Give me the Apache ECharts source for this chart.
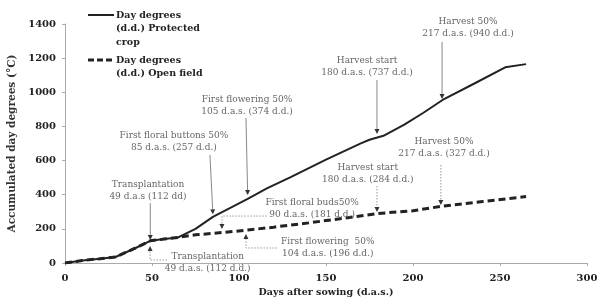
<!DOCTYPE html>
<html><head><meta charset="utf-8">
<script src="https://cdn.jsdelivr.net/npm/echarts/dist/echarts.min.js"></script>
<style>html,body{margin:0;padding:0;background:#fff}#c{width:600px;height:301px}</style>
</head><body><div id="c"></div>
<script>
// ---- data ----
const protectedDays = [0, 10, 20, 29, 40, 49, 57, 65, 75, 85, 95, 105, 116, 130, 150, 170, 175, 183, 195, 206, 217, 235, 253, 265];
const protectedDD   = [0, 15, 25, 35, 85, 130, 140, 150, 200, 270, 323, 375, 437, 505, 605, 701, 722, 745, 810, 880, 955, 1050, 1146, 1165];
const openDays = [0, 10, 20, 29, 40, 49, 57, 65, 75, 90, 105, 120, 140, 160, 180, 200, 217, 240, 265];
const openDD   = [0, 15, 25, 35, 85, 130, 140, 150, 165, 178, 193, 210, 235, 262, 290, 306, 333, 360, 389];
const xTicks = [0, 50, 100, 150, 200, 250, 300];
const yTicks = [0, 200, 400, 600, 800, 1000, 1200, 1400];
const seriesNames = ['Day degrees\n(d.d.) Protected\ncrop', 'Day degrees\n(d.d.) Open field'];

// annotations (data coordinates): label, label anchor, connector path (last point = arrow tip), style
const annLabels = [
  'Transplantation\n49 d.a.s (112 dd)',
  'First floral buttons 50%\n85 d.a.s. (257 d.d.)',
  'First flowering 50%\n105 d.a.s. (374 d.d.)',
  'Harvest start\n180 d.a.s. (737 d.d.)',
  'Harvest 50%\n217 d.a.s. (940 d.d.)',
  'Harvest 50%\n217 d.a.s. (327 d.d.)',
  'Harvest start\n180 d.a.s. (284 d.d.)',
  'First floral buds50%\n90 d.a.s. (181 d.d.)',
  'First flowering  50%\n104 d.a.s. (196 d.d.)',
  'Transplantation\n49 d.a.s. (112 d.d.)'
];
const annTextPos = [[47.7, 422], [62.6, 710], [104.6, 920], [173.6, 1148], [231.6, 1377],
                    [217.8, 674], [174, 521], [142, 319], [151, 88], [82, 0]];
const annPaths = [
  [[49, 351], [49, 135]],
  [[83.3, 633], [85, 285]],
  [[104, 850], [105, 398]],
  [[179.3, 1072], [179.3, 755]],
  [[216.7, 1295], [216.7, 960]],
  [[216, 574], [216, 340]],
  [[179.3, 451], [179.3, 299]],
  [[116, 275], [90.2, 275], [90.2, 199]],
  [[121.8, 88], [104, 88], [104, 170]],
  [[58.6, 17.6], [48.9, 17.6], [48.9, 100]]
];
const annDotted = [false, false, false, false, false, true, true, true, true, true];

const SERIF = '"DejaVu Serif", serif';
const chart = echarts.init(document.getElementById('c'), null, {renderer: 'canvas'});

function pairs(xs, ys) { return xs.map((x, i) => [x, ys[i]]); }

chart.setOption({
  animation: false,
  backgroundColor: '#fff',
  grid: {left: 65, right: 13, top: 24, bottom: 38, containLabel: false, outerBoundsMode: 'none'},
  xAxis: {
    type: 'value', min: xTicks[0], max: xTicks[xTicks.length - 1], interval: 50,
    name: 'Days after sowing (d.a.s.)', nameLocation: 'middle', nameGap: 25,
    nameTextStyle: {fontFamily: SERIF, fontWeight: 'bold', fontSize: 9.5, color: '#222'},
    axisLine: {lineStyle: {color: '#aaa', width: 1}},
    axisTick: {show: true, length: 3, inside: false, lineStyle: {color: '#aaa'}},
    axisLabel: {fontFamily: SERIF, fontWeight: 'bold', fontSize: 10, color: '#222', margin: 10, formatter: v => String(v)},
    splitLine: {show: false}
  },
  yAxis: {
    type: 'value', min: yTicks[0], max: yTicks[yTicks.length - 1], interval: 200,
    name: 'Accumulated day degrees (°C)', nameLocation: 'middle', nameGap: 45,
    nameTextStyle: {fontFamily: SERIF, fontWeight: 'bold', fontSize: 10.5, color: '#333'},
    axisLine: {show: true, lineStyle: {color: '#aaa', width: 1}},
    axisTick: {show: true, length: 3, lineStyle: {color: '#aaa'}},
    axisLabel: {fontFamily: SERIF, fontWeight: 'bold', fontSize: 10, color: '#222', margin: 9, formatter: v => String(v)},
    splitLine: {show: false}
  },
  series: [
    {name: seriesNames[0], type: 'line', data: pairs(protectedDays, protectedDD), showSymbol: false,
     lineStyle: {color: '#222', width: 2}, z: 3},
    {name: seriesNames[1], type: 'line', data: pairs(openDays, openDD), showSymbol: false,
     lineStyle: {color: '#222', width: 3, type: [7, 4]}, z: 4}
  ]
});

function px(p) { return chart.convertToPixel({gridIndex: 0}, p); }

const graphics = [];
// legend
graphics.push({type: 'line', shape: {x1: 88, y1: 15, x2: 114, y2: 15}, style: {stroke: '#222', lineWidth: 2}});
graphics.push({type: 'text', x: 116, y: 8.5, style: {text: seriesNames[0], font: 'bold 9.5px ' + SERIF, fill: '#222', lineHeight: 13.5, textVerticalAlign: 'top'}});
graphics.push({type: 'line', shape: {x1: 88, y1: 60, x2: 114, y2: 60}, style: {stroke: '#222', lineWidth: 3, lineDash: [6, 3]}});
graphics.push({type: 'text', x: 116, y: 53.5, style: {text: seriesNames[1], font: 'bold 9.5px ' + SERIF, fill: '#222', lineHeight: 13.5, textVerticalAlign: 'top'}});

annLabels.forEach((lab, i) => {
  const t = px(annTextPos[i]);
  graphics.push({type: 'text', x: t[0], y: t[1], z: 10,
    style: {text: lab, font: '9px ' + SERIF, fill: '#666', align: 'center', verticalAlign: 'middle', lineHeight: 12}});
  const pts = annPaths[i].map(px);
  const tip = pts[pts.length - 1], prev = pts[pts.length - 2];
  let dx = tip[0] - prev[0], dy = tip[1] - prev[1];
  const L = Math.hypot(dx, dy); dx /= L; dy /= L;
  const hl = 5, hw = 2.5;
  const base = [tip[0] - dx * hl, tip[1] - dy * hl];
  const linePts = pts.slice(0, -1).concat([base]);
  graphics.push({type: 'polyline', z: 10, shape: {points: linePts},
    style: {stroke: annDotted[i] ? '#999' : '#888', lineWidth: 1, lineDash: annDotted[i] ? [1.5, 1.5] : null, fill: null}});
  graphics.push({type: 'polygon', z: 11, shape: {points: [tip, [base[0] - dy * hw, base[1] + dx * hw], [base[0] + dy * hw, base[1] - dx * hw]]},
    style: {fill: '#333', stroke: null}});
});

chart.setOption({graphic: graphics});
</script>
</body></html>
